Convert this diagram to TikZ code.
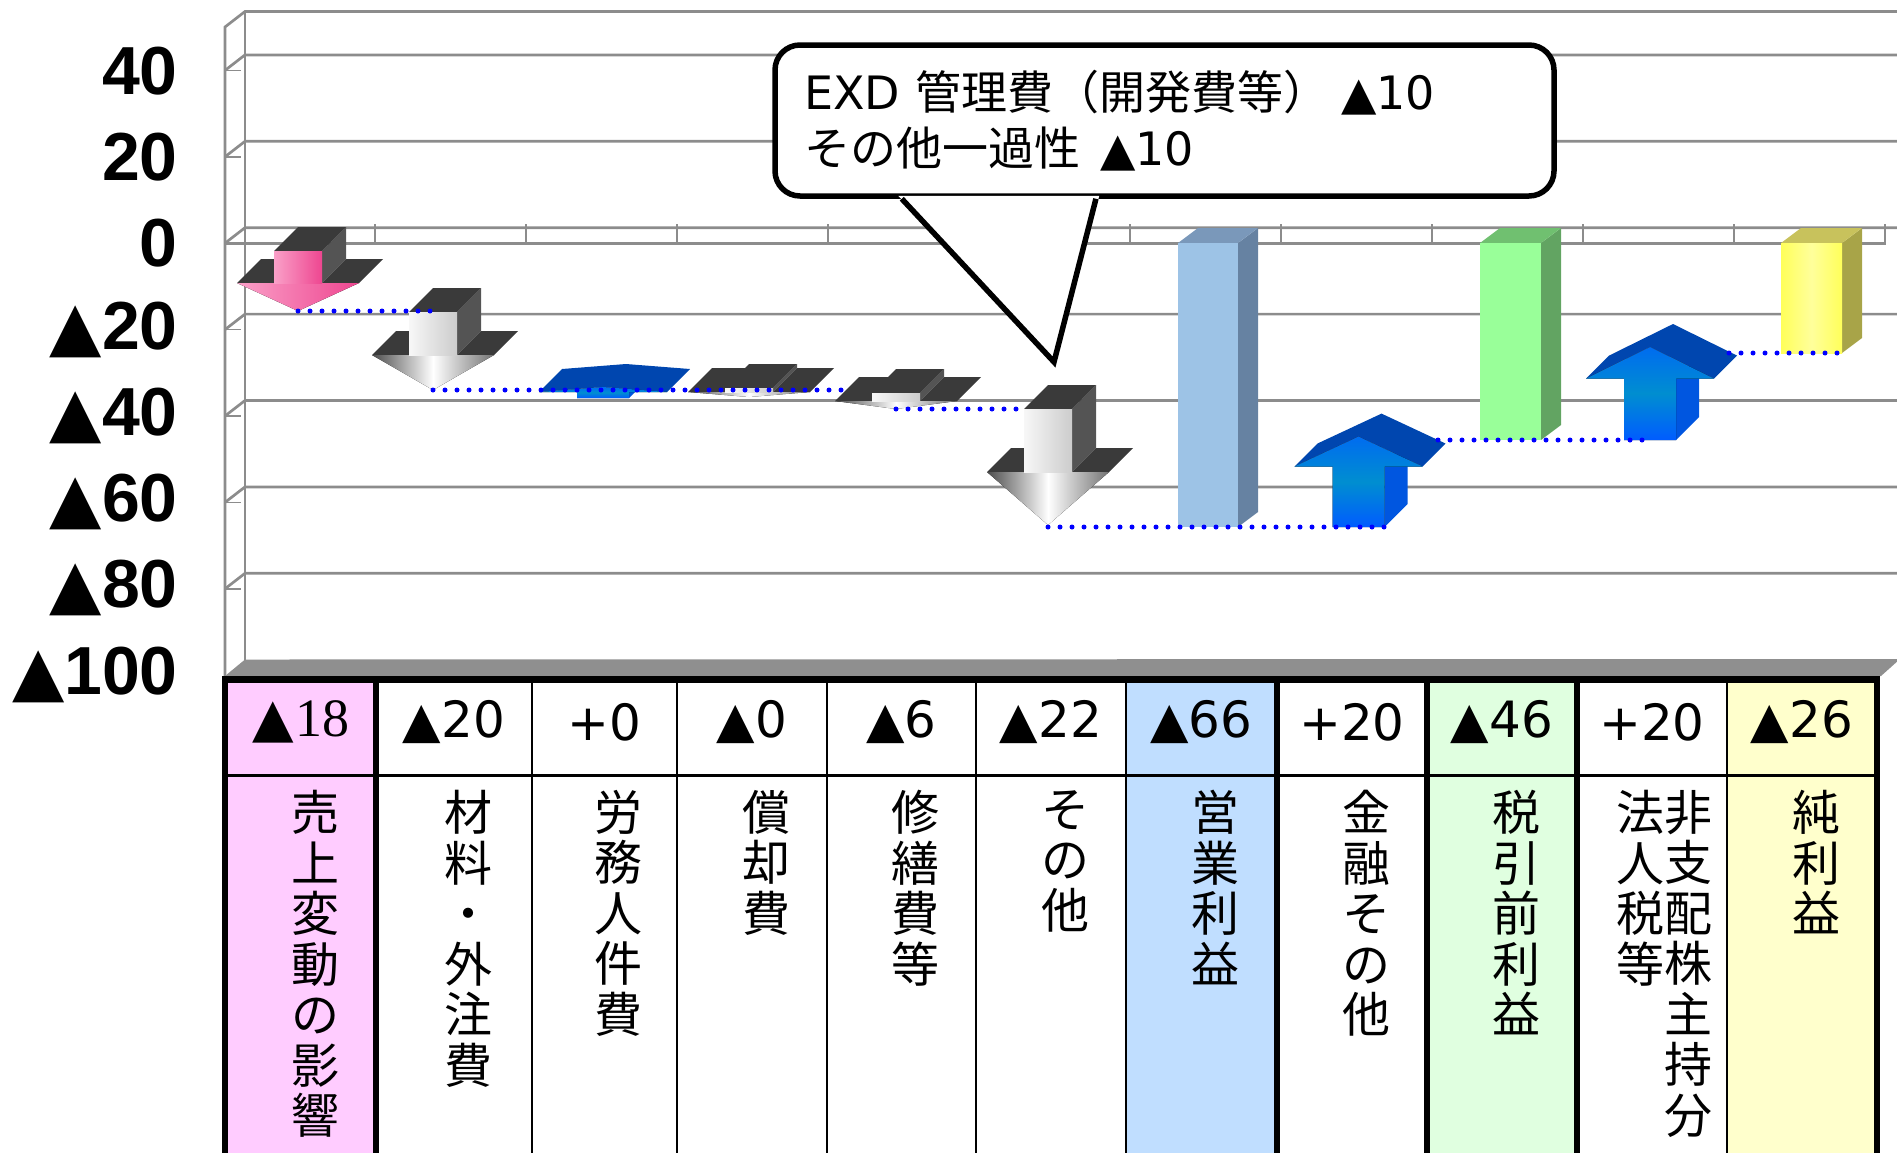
\documentclass[tikz,border=0pt]{standalone}
\usepackage{fontspec}
\setmainfont{DejaVu Sans}
\newfontfamily\jpfont{Noto Sans CJK JP}
\newfontfamily\axisfont{Liberation Sans}
\newfontfamily\seriffont{Liberation Serif}

\definecolor{gridgray}{RGB}{140,140,140}
\definecolor{floorgray}{RGB}{143,143,143}
\definecolor{blockdark}{RGB}{58,58,58}
\definecolor{blockside}{RGB}{84,84,84}
\definecolor{bluetop}{RGB}{0,70,175}
\definecolor{blueside}{RGB}{0,86,224}
\definecolor{opfront}{RGB}{157,195,230}
\definecolor{opside}{RGB}{102,130,162}
\definecolor{optop}{RGB}{122,152,186}
\definecolor{prefront}{RGB}{153,255,153}
\definecolor{preside}{RGB}{98,164,98}
\definecolor{pretop}{RGB}{112,192,112}
\definecolor{netside}{RGB}{168,164,72}
\definecolor{nettop}{RGB}{200,194,92}
\definecolor{pinkcell}{RGB}{255,204,255}
\definecolor{bluecell}{RGB}{192,222,255}
\definecolor{greencell}{RGB}{224,255,224}
\definecolor{yellowcell}{RGB}{255,255,204}

% triangle sign taken from the main font
\newcommand{\tri}{{\rmfamily ▲}}

% 3D down arrow: name, x centre, shaft top, wing line, tip, head style, shaft style
\newcommand{\downblock}[7]{%
  \fill[blockside] (#2+24,#3) -- ++(24,-24) -- (#2+48,#4-24) -- (#2+24,#4) -- cycle;
  \fill[blockdark] (#2-24,#3) -- (#2+24,#3) -- ++(24,-24) -- (#2,#3-24) -- cycle;
  \fill[blockdark] (#2-61,#4) -- (#2-24,#4) -- ++(24,-24) -- (#2-37,#4-24) -- cycle;
  \fill[blockdark] (#2+24,#4) -- (#2+61,#4) -- ++(24,-24) -- (#2+48,#4-24) -- cycle;
  \fill[#6] (#2-61,#4) -- (#2+61,#4) -- (#2,#5) -- cycle;
  \fill[#7] (#2-24,#3) rectangle (#2+24,#4);
  \coordinate (#1) at (#2,#5);}

% 3D up arrow: name, x centre, shaft bottom, head base, apex
\newcommand{\upblock}[5]{%
  \fill[blueside] (#2+26,#3) -- ++(23,-23) -- (#2+49,#4-23) -- (#2+26,#4) -- cycle;
  \fill[bluetop] (#2-64,#4) -- ++(23,-23) -- (#2+23,#5-23) -- (#2+87,#4-23) -- (#2+64,#4) -- (#2,#5) -- cycle;
  \fill[blue front] (#2-26,#3) -- (#2+26,#3) -- (#2+26,#4) -- (#2+64,#4) -- (#2,#5) -- (#2-64,#4) -- (#2-26,#4) -- cycle;
  \coordinate (#1) at (#2,#3);}

% 3D column from zero: name, left, right, bottom, side, top, front style
\newcommand{\colblock}[7]{%
  \fill[#5] (#3,243) -- ++(20,-15) -- (#3+20,#4-15) -- (#3,#4) -- cycle;
  \fill[#6] (#2,243) -- (#3,243) -- ++(20,-15) -- (#2+20,228) -- cycle;
  \fill[#7] (#2,243) rectangle (#3,#4);
  \coordinate (#1) at (#3,#4);}

\begin{document}
\begin{tikzpicture}[x=1pt, y=-1pt,
  grid line/.style={draw=gridgray, line width=2.7pt},
  tick line/.style={draw=gridgray, line width=1.5pt},
  dotline/.style={blue, line width=5pt, line cap=round, dash pattern=on 0pt off 12pt},
  pink front/.style={left color={rgb,255:red,250;green,160;blue,200}, right color={rgb,255:red,238;green,70;blue,144}},
  grey head/.style={left color=black!70, right color=black!55, middle color=white},
  grey shaft/.style={left color=white!97!black, right color=white!80!black},
  blue front/.style={top color={rgb,255:red,0;green,108;blue,240}, bottom color={rgb,255:red,0;green,92;blue,255}, middle color={rgb,255:red,0;green,142;blue,208}},
  net front/.style={left color={rgb,255:red,255;green,255;blue,90}, right color={rgb,255:red,255;green,255;blue,90}, middle color={rgb,255:red,255;green,255;blue,155}},
  axis label/.style={font=\axisfont\bfseries\fontsize{68}{70}\selectfont, anchor=east, inner sep=0pt},
  value/.style={font=\fontsize{50}{60}\selectfont, inner sep=0pt},
  vlabel/.style={font=\jpfont\fontsize{48}{50.5}\selectfont, align=center, anchor=north, inner sep=0pt},
  note/.style={draw, line width=5.5pt, rounded corners=25pt, fill=white, minimum width=779pt, minimum height=151pt,
    text width=721pt, align=left, inner sep=0pt, font=\fontsize{46}{56}\selectfont}]
\useasboundingbox (0,0) rectangle (1897,1152);
\clip (0,0) rectangle (1897,1152);

% wall, grid and floor
\foreach \v in {40,20,-20,-40,-60,-80}{
  \draw[grid line] (225,{243.2-4.32*(\v)}) -- (245,{227.7-4.32*(\v)}) -- (1900,{227.7-4.32*(\v)});
  \draw[tick line] (225,{243.2-4.32*(\v)}) -- ++(16,0);
}
\draw[grid line] (225,243.2) -- (245,227.7) -- (1900,227.7);
\draw[grid line] (225,676) -- (225,27) -- (245,11.5) -- (1900,11.5);
\draw[grid line] (245,11.5) -- (245,660);
\fill[floorgray] (225,676) -- (1881,676) -- (1900,659) -- (245,659.5) -- cycle;
\draw[grid line] (225,243.2) -- (1886,243.2);
\foreach \i in {1,...,11}
  \draw[tick line] ({224+151*\i},224) -- ({224+151*\i},243.2);

% arrows and columns
\downblock{sales}{298}{251}{283}{311}{pink front}{pink front}
\downblock{material}{433}{312}{355}{390}{grey head}{grey shaft}
\upblock{labour}{603}{398}{392}{387}
\downblock{deprec}{749}{388}{392}{397}{grey head}{grey shaft}
\downblock{repair}{896}{393}{401}{409}{grey head}{grey shaft}
\downblock{other}{1048}{409}{472}{525}{grey head}{grey shaft}
\colblock{oper}{1178}{1238}{527}{opside}{optop}{fill=opfront}
\upblock{finance}{1358.5}{527}{466.5}{436.6}
\colblock{pretax}{1480}{1541}{440}{preside}{pretop}{fill=prefront}
\upblock{minority}{1650}{440}{378.6}{347}
\colblock{net}{1781}{1842}{353}{netside}{nettop}{net front}

% levels
\coordinate (lv2) at (842,390);
\coordinate (lv3) at (1016,409);
\coordinate (lv5) at (1438,440);
\coordinate (lv6) at (1729,353);
\draw[dotline] (sales) -- (sales -| material);
\draw[dotline] (material) -- (lv2);
\draw[dotline] (repair) -- (lv3);
\draw[dotline] (other |- finance) -- ([xshift=28pt]finance);
\draw[dotline] (lv5) -- (minority);
\draw[dotline] (lv6) -- (net);

% callout
\node[note] (note) at (1164.5,120.5) {EXD {\jpfont 管理費（開発費等）}\hspace{12pt}▲10\\
  {\jpfont その他一過性}\hspace{20pt}▲10};
\coordinate (notetip) at (1054,362);
\fill[white] ([xshift=126pt,yshift=3pt]note.south west) -- (notetip) -- ([xshift=327pt,yshift=3pt]note.south west) -- cycle;
\draw[line width=5.5pt] ([xshift=129.5pt]note.south west) -- (notetip) -- ([xshift=323.7pt]note.south west);

% table
\fill[pinkcell] (225,680) rectangle (376,1160);
\fill[bluecell] (1126,680) rectangle (1277,1160);
\fill[greencell] (1427,680) rectangle (1577,1160);
\fill[yellowcell] (1727,680) rectangle (1877,1160);
\foreach \x in {532,677,827,976,1126,1727}
  \draw[line width=2.7pt] (\x,680) -- (\x,1160);
\foreach \x in {225,376,1277,1427,1577,1877}
  \draw[line width=6.5pt] (\x,680) -- (\x,1160);
\draw[line width=7pt] (222,679.5) -- (1880,679.5);
\draw[line width=3pt] (225,775.5) -- (1877,775.5);

\node[value, font=\seriffont\fontsize{54}{60}\selectfont] (val0) at (301,722) {\tri\kern2pt18};
\foreach \x/\t [count=\i] in {454/▲20, 604.5/+0, 752/▲0, 901.5/▲6, 1051/▲22,
    1201.5/▲66, 1352/+20, 1502/▲46, 1652/+20, 1802/▲26}
  \node[value] (val\i) at (\x,722) {\t};

\foreach \x/\t [count=\i] in {315/{売\\上\\変\\動\\の\\影\\響}, 468/{材\\料\\・\\外\\注\\費},
    618.5/{労\\務\\人\\件\\費}, 766/{償\\却\\費}, 915.5/{修\\繕\\費\\等}, 1065/{そ\\の\\他},
    1215.5/{営\\業\\利\\益}, 1366/{金\\融\\そ\\の\\他}, 1516/{税\\引\\前\\利\\益},
    1688.6/{非\\支\\配\\株\\主\\持\\分}, 1640/{法\\人\\税\\等}, 1816/{純\\利\\益}}
  \node[vlabel] (lab\i) at (\x,790) {\t};

% value axis
\foreach \v/\t [count=\k] in {40/40, 20/20, 0/0, -20/\tri20, -40/\tri40, -60/\tri60, -80/\tri80, -100/\tri100}
  \node[axis label] (ylab\k) at (178,{243.5-4.31*(\v)}) {\t};
\end{tikzpicture}
\end{document}
